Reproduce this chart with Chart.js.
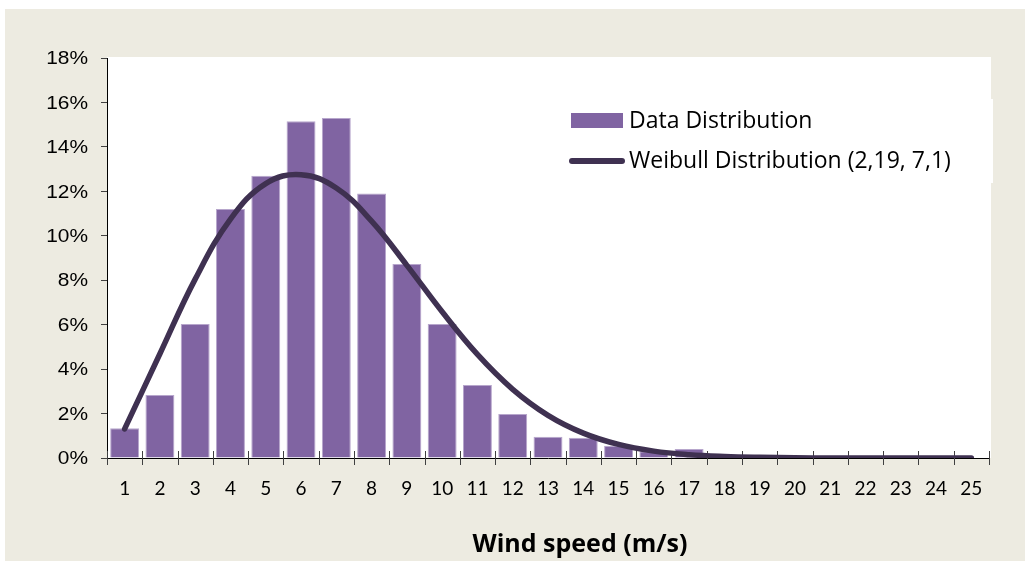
<!DOCTYPE html>
<html>
<head>
<meta charset="utf-8">
<script src="https://cdn.jsdelivr.net/npm/chart.js@4.4.1/dist/chart.umd.min.js"></script>
<style>
  html, body { margin: 0; padding: 0; background: #fff; overflow: hidden; }
  #wrap { width: 1025px; height: 561px; position: relative; }
</style>
</head>
<body>
<div id="wrap"><canvas id="c" width="1025" height="561"></canvas></div>
<script>
// Wind speed bins (m/s)
const windSpeeds = ['1','2','3','4','5','6','7','8','9','10','11','12','13','14','15','16','17','18','19','20','21','22','23','24','25'];

// Measured share of hours in each bin (%)
const dataDistribution = [1.34, 2.83, 6.03, 11.2, 12.7, 15.15, 15.3, 11.9, 8.73, 6.03, 3.29, 1.98, 0.96, 0.91, 0.55, 0.3, 0.4, 0.1, 0.05, 0, 0, 0, 0, 0, 0];

// Fitted Weibull curve (k = 2,19, c = 7,1), in %
const weibullDistribution = [1.31, 4.69, 8.05, 10.75, 12.35, 12.75, 12.15, 10.66, 8.67, 6.58, 4.66, 3.09, 1.92, 1.12, 0.61, 0.31, 0.15, 0.07, 0.03, 0.01, 0, 0, 0, 0, 0];

// Value axis ticks (%)
const yTickValues = [0, 2, 4, 6, 8, 10, 12, 14, 16, 18];

const seriesNames = ['Data Distribution', 'Weibull Distribution (2,19, 7,1)'];
const xAxisTitle = 'Wind speed (m/s)';

const BAR_COLOR = '#8064A2';
const LINE_COLOR = '#3F3151';
const PANEL_COLOR = '#EDEBE1';

// Page panel, white plot area and the legend panel that pokes past it
const backdrop = {
  id: 'backdrop',
  beforeDraw(chart) {
    const { ctx, chartArea: a } = chart;
    ctx.save();
    ctx.fillStyle = '#fff';
    ctx.fillRect(0, 0, chart.width, chart.height);
    ctx.fillStyle = PANEL_COLOR;
    ctx.fillRect(5, 9, chart.width - 5, chart.height - 9);
    ctx.fillStyle = '#fff';
    ctx.fillRect(a.left, a.top - 1, a.right - a.left + 2, a.bottom - a.top + 1);
    ctx.fillRect(a.right, 99, 4, 84);
    ctx.restore();
  }
};

// Crossing tick marks on the category axis, value-axis labels, legend and axis title
const axisDecor = {
  id: 'axisDecor',
  beforeDatasetsDraw(chart) {
    const { ctx } = chart;
    const xs = chart.scales.x, ys = chart.scales.y;
    const base = Math.round(ys.getPixelForValue(0));
    ctx.save();
    ctx.strokeStyle = '#404040';
    ctx.lineWidth = 1;
    ctx.beginPath();
    for (let i = 0; i <= windSpeeds.length; i++) {
      const px = Math.round(xs.getPixelForValue(i - 0.5)) + 0.5;
      ctx.moveTo(px, base - 7);
      ctx.lineTo(px, base + 7);
    }
    ctx.stroke();

    ctx.fillStyle = '#000';
    ctx.font = '19px "Liberation Sans", Arial, sans-serif';
    ctx.textAlign = 'right';
    ctx.textBaseline = 'middle';
    yTickValues.forEach(v => {
      const py = ys.getPixelForValue(v);
      ctx.save();
      ctx.translate(88, py + 1);
      ctx.scale(1.1, 1);
      ctx.fillText(v + '%', 0, 0);
      ctx.restore();
    });
    ctx.restore();
  },
  afterDatasetsDraw(chart) {
    const { ctx } = chart;
    const ds = chart.data.datasets;
    const bars = ds.find(d => d.type === 'bar');
    const curve = ds.find(d => d.type === 'line');
    ctx.save();
    ctx.fillStyle = bars.backgroundColor;
    ctx.fillRect(571, 113, 52, 15);
    ctx.strokeStyle = curve.borderColor;
    ctx.lineWidth = 6;
    ctx.lineCap = 'round';
    ctx.beginPath();
    ctx.moveTo(572, 161);
    ctx.lineTo(622, 161);
    ctx.stroke();
    ctx.fillStyle = '#000';
    ctx.font = '23px "Open Sans", Lato, sans-serif';
    ctx.textAlign = 'left';
    ctx.textBaseline = 'middle';
    ctx.fillText(bars.label, 629, 121);
    ctx.fillText(curve.label, 629, 161);
    ctx.font = 'bold 25px "Open Sans", Lato, sans-serif';
    ctx.textAlign = 'center';
    ctx.textBaseline = 'alphabetic';
    ctx.fillText(xAxisTitle, 580, 552);
    ctx.restore();
  }
};

new Chart(document.getElementById('c'), {
  data: {
    labels: windSpeeds,
    datasets: [
      {
        type: 'line',
        label: seriesNames[1],
        data: weibullDistribution,
        borderColor: LINE_COLOR,
        backgroundColor: LINE_COLOR,
        borderWidth: 5.5,
        borderCapStyle: 'round',
        borderJoinStyle: 'round',
        pointRadius: 0,
        tension: 0.4,
        fill: false,
        order: 0
      },
      {
        type: 'bar',
        label: seriesNames[0],
        data: dataDistribution,
        backgroundColor: BAR_COLOR,
        borderColor: '#B7A6CC',
        borderWidth: 1,
        categoryPercentage: 1,
        barPercentage: 0.82,
        order: 1
      }
    ]
  },
  options: {
    responsive: false,
    animation: false,
    devicePixelRatio: 1,
    layout: { padding: { top: 58, right: 36, left: 0, bottom: 0 } },
    plugins: {
      legend: { display: false },
      tooltip: { enabled: false }
    },
    scales: {
      x: {
        type: 'category',
        offset: true,
        grid: { display: false, drawTicks: false, offset: true },
        border: { display: true, color: '#000', width: 1 },
        ticks: {
          color: '#000',
          font: { family: 'Lato, "Open Sans", sans-serif', size: 19 },
          padding: 19,
          maxRotation: 0,
          autoSkip: false
        },
        afterFit(s) { s.height = 103; }
      },
      y: {
        min: 0,
        max: 18,
        ticks: { stepSize: 2, display: false },
        grid: { drawOnChartArea: false, drawTicks: true, tickLength: 6, color: '#404040' },
        border: { display: true, color: '#000', width: 1 },
        afterFit(s) { s.width = 107; }
      }
    }
  },
  plugins: [backdrop, axisDecor]
});
</script>
</body>
</html>
